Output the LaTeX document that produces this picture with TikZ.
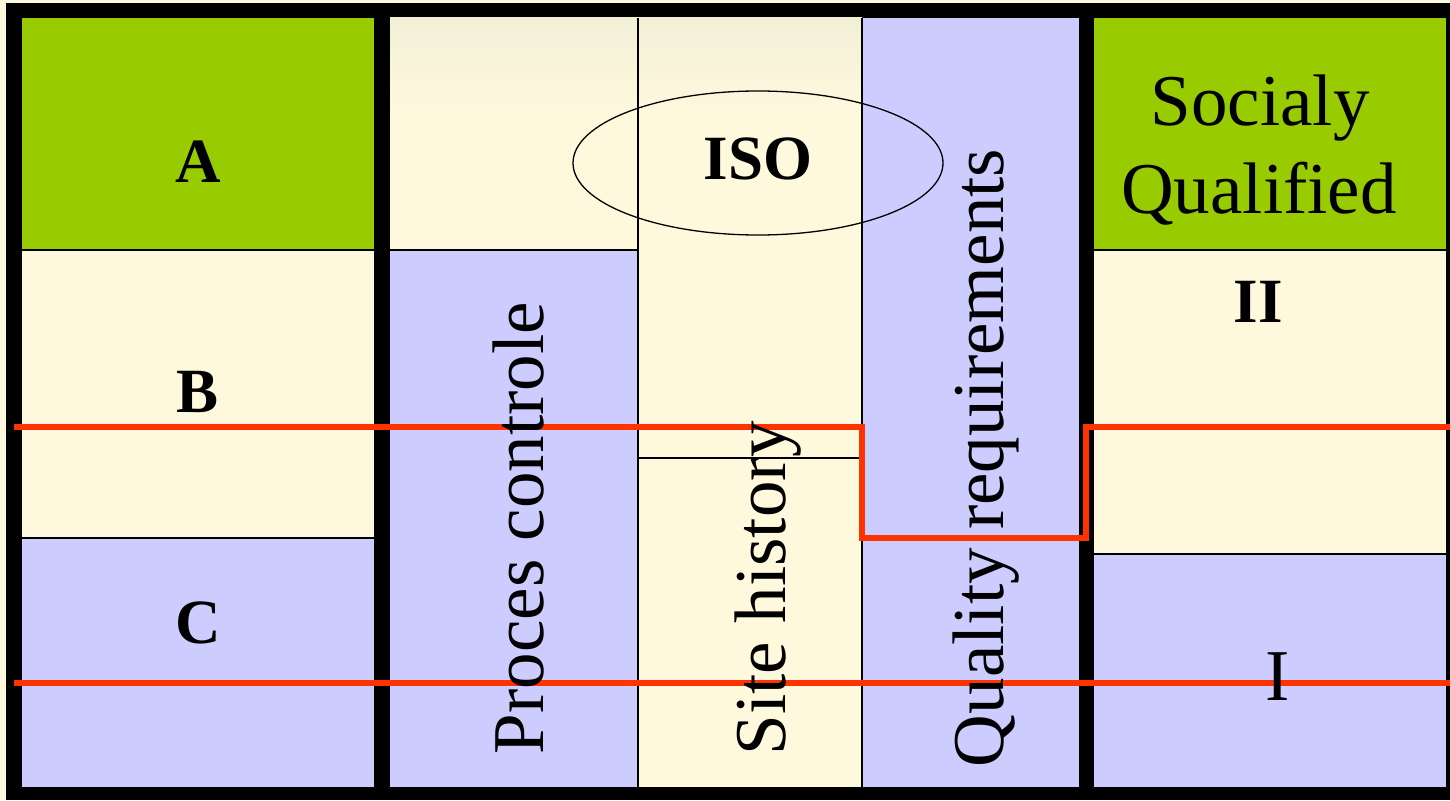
\documentclass[tikz,border=0pt]{standalone}
\usepackage{fontspec}
\setmainfont{Liberation Serif}
\definecolor{cgreen}{HTML}{99CC00}
\definecolor{ccream}{HTML}{FEF8DD}
\definecolor{ccreamtop}{HTML}{F2F0D8}
\definecolor{clav}{HTML}{CCCCFF}
\definecolor{cred}{HTML}{FF3300}
\tikzset{
  thinline/.style={draw=black, line width=1.5pt},
  redline/.style={draw=cred, line width=5.5pt},
  boldlabel/.style={inner sep=0pt, anchor=base, font=\fontsize{63}{63}\selectfont\bfseries},
  biglabel/.style={inner sep=0pt, anchor=base, font=\fontsize{73}{88}\selectfont},
  sidelabel/.style={biglabel, rotate=90}
}
\begin{document}
\begin{tikzpicture}[x=1pt, y=-1pt]
\useasboundingbox (0,0) rectangle (1450,800);
% background and frame
\fill[ccream] (0,0) rectangle (1450,800);
\fill[black] (6,3) rectangle (1450,800);
% column 1
\fill[cgreen] (22,18) rectangle (374,250);
\fill[ccream] (22,250) rectangle (374,538);
\fill[clav] (22,538) rectangle (374,787);
% column 2
\fill[ccream] (390,18) rectangle (638,250);
\fill[clav] (390,250) rectangle (638,787);
% column 3
\fill[ccream] (638,18) rectangle (862,787);
\shade[top color=ccreamtop, bottom color=ccream] (390,18) rectangle (862,110);
% column 4
\fill[clav] (862,18) rectangle (1079,787);
% column 5
\fill[cgreen] (1094,18) rectangle (1447,250);
\fill[ccream] (1094,250) rectangle (1447,554);
\fill[clav] (1094,554) rectangle (1447,787);
% thin separators
\draw[thinline] (22,250) -- (374,250);
\draw[thinline] (22,538) -- (374,538);
\draw[thinline] (390,250) -- (638,250);
\draw[thinline] (638,458) -- (862,458);
\draw[thinline] (638,18) -- (638,787);
\draw[thinline] (862,18) -- (862,787);
\draw[thinline] (1094,250) -- (1447,250);
\draw[thinline] (1094,554) -- (1447,554);
\draw[thinline] (1447,18) -- (1447,787);
% ellipse
\draw[black, line width=1.3pt] (758,163) ellipse [x radius=185, y radius=72];
% red lines
\draw[redline] (14,427) -- (862,427) -- (862,538) -- (1086,538) -- (1086,427) -- (1450,427);
\draw[redline] (14,683) -- (1450,683);
% labels
\node[boldlabel] (a) at (198,182) {A};
\node[boldlabel] (b) at (198,412) {B};
\node[boldlabel] (c) at (198,643) {C};
\node[boldlabel] (iso) at (758,179) {ISO};
\node[boldlabel] (ii) at (1258,322) {II};
\node[biglabel] (one) at (1278,700) {I};
\node[biglabel] (socialy) at (1260,125) {Socialy};
\node[biglabel] (qualified) at (1259,213) {Qualified};
\node[sidelabel] (proces) at (543,528) {Proces controle};
\node[sidelabel] (site) at (785,588) {Site history};
\node[sidelabel] (quality) at (1003,458) {Quality requirements};
\end{tikzpicture}
\end{document}
